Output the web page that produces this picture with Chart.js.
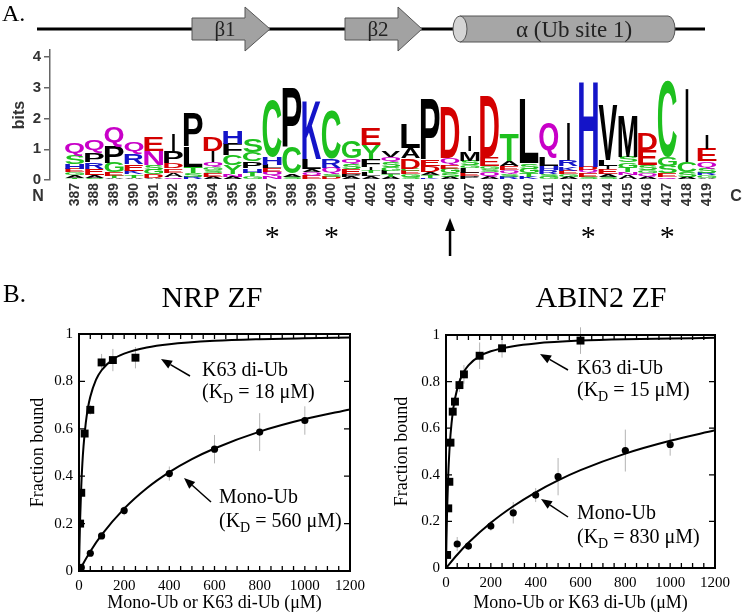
<!DOCTYPE html>
<html>
<head>
<meta charset="utf-8">
<script src="https://cdn.jsdelivr.net/npm/chart.js@4.4.1/dist/chart.umd.min.js"></script>
<style>
html, body { margin: 0; padding: 0; background: #fff; }
body { width: 745px; height: 615px; position: relative; overflow: hidden; }
canvas { position: absolute; }
#logo { left: 0; top: 0; width: 745px; height: 265px; }
#nrp { left: 0; top: 280px; width: 372px; height: 335px; }
#abin { left: 372px; top: 280px; width: 373px; height: 335px; }
</style>
</head>
<body>
<canvas id="logo" width="745" height="265"></canvas>
<canvas id="nrp" width="372" height="335"></canvas>
<canvas id="abin" width="373" height="335"></canvas>
<script>
const SERIF = '"Liberation Serif", "Times New Roman", serif';
const SANS = '"Liberation Sans", Arial, sans-serif';

/* --------------------------------------------------
   PANEL A DATA: sequence logo (letters bottom -> top)
-------------------------------------------------- */
const logoPositions = [387, 388, 389, 390, 391, 392, 393, 394, 395, 396, 397, 398, 399, 400, 401, 402, 403,
                       404, 405, 406, 407, 408, 409, 410, 411, 412, 413, 414, 415, 416, 417, 418, 419];
const logoLetters = [
    "TAGEHSQ", "SAERPQ", "ATEGPQ", "ATKERQ", "ADGSNE", "QAEDPI", "RSTLP", "AESGQID", "ANYCFH", "GTHPCS",
    "NQELHC", "SACP", "EQALK", "DSQRC", "APESQG", "ALTIFYE", "ATLGSQV", "SGECDAL", "KTADEP", "ASGEQD",
    "PELGSMI", "AQSGED", "RSQEAT", "KTGSL", "GSRHLQ", "AGEKRI", "SEQDH", "SAEILV", "ANTGSM", "AQGSED",
    "QESGC", "ASCI", "AGRSQEI"
];
const logoBits = [
    [.08, .08, .1, .1, .15, .29, .42], [.07, .08, .2, .22, .3, .45], [.06, .08, .1, .32, .55, .62],
    [.08, .1, .12, .22, .33, .35], [.08, .1, .15, .15, .45, .45], [.1, .14, .14, .16, .38, .6],
    [.1, .13, .2, .65, 1.09], [.1, .12, .1, .1, .15, .36, .45], [.1, .1, .27, .33, .37, .4],
    [.12, .12, .14, .22, .3, .42], [.12, .15, .12, .1, .25, 1.86], [.1, .1, .85, 1.94],
    [.13, .12, .1, .33, 1.92], [.1, .1, .2, .3, 1.58], [.1, .1, .15, .17, .18, .55],
    [.12, .1, .1, .1, .27, .45, .54], [.1, .1, .1, .13, .15, .17, .22], [.1, .1, .1, .07, .33, .35, .8],
    [.08, .08, .1, .2, .2, 2.0], [.1, .12, .15, .12, .22, 1.68], [.12, .1, .16, .1, .15, .3, .5],
    [.1, .15, .1, .1, .3, 2.0], [.1, .1, .12, .14, .16, .9], [.1, .12, .15, .18, 2.08],
    [.1, .1, .12, .12, .27, 1.14], [.1, .1, .1, .14, .2, 1.21], [.1, .13, .1, .1, 2.77],
    [.1, .1, .15, .1, .2, 1.79], [.15, .1, .15, .17, .19, 1.36], [.12, .1, .1, .17, .49, .54],
    [.1, .12, .24, .3, 2.5], [.1, .17, .33, 2.39], [.08, .08, .08, .15, .22, .4, .46]
];
const bitTicks = [0, 1, 2, 3, 4];
const starredResidues = [397, 400, 413, 417];
const arrowResidue = 406;

/* --------------------------------------------------
   PANEL B DATA: binding curves
-------------------------------------------------- */
const concTicks = [0, 200, 400, 600, 800, 1000, 1200];
const fractionTicks = [0, 0.2, 0.4, 0.6, 0.8, 1];

// NRP ZF
const nrpDiX = [0, 5, 10, 25, 50, 100, 150, 250];
const nrpDiY = [0, 0.20, 0.33, 0.58, 0.68, 0.88, 0.89, 0.90];
const nrpDiErr = [0, 0.01, 0.01, 0.02, 0.02, 0.036, 0.047, 0.045];
const nrpMonoX = [10, 50, 100, 200, 400, 600, 800, 1000];
const nrpMonoY = [0.015, 0.075, 0.148, 0.255, 0.411, 0.514, 0.586, 0.635];
const nrpMonoErr = [0, 0.01, 0.01, 0.02, 0.03, 0.06, 0.08, 0.06];
const nrpDiFitX = [0, 2, 5, 10, 15, 20, 30, 40, 50, 75, 100, 150, 200, 300, 400, 600, 800, 1000, 1200];
const nrpDiFitY = [0, 0.10, 0.217, 0.357, 0.455, 0.526, 0.625, 0.69, 0.735, 0.806, 0.847, 0.893, 0.917, 0.943, 0.957, 0.971, 0.978, 0.982, 0.985];
const nrpMonoFitX = [0, 50, 100, 200, 300, 400, 500, 600, 800, 1000, 1200];
const nrpMonoFitY = [0, 0.082, 0.152, 0.263, 0.349, 0.417, 0.472, 0.517, 0.588, 0.641, 0.682];

// ABIN2 ZF
const abinDiX = [5, 10, 15, 20, 30, 40, 60, 80, 150, 250, 600];
const abinDiY = [0.056, 0.256, 0.37, 0.538, 0.671, 0.714, 0.785, 0.831, 0.911, 0.943, 0.976];
const abinDiErr = [0.01, 0.01, 0.01, 0.01, 0.02, 0.02, 0.03, 0.04, 0.057, 0.04, 0.057];
const abinMonoX = [50, 100, 200, 300, 400, 500, 800, 1000];
const abinMonoY = [0.103, 0.094, 0.18, 0.237, 0.313, 0.392, 0.504, 0.53];
const abinMonoErr = [0.03, 0.01, 0.02, 0.046, 0.03, 0.08, 0.09, 0.048];
const abinDiFitX = [0, 2, 5, 10, 15, 20, 30, 40, 60, 80, 100, 150, 200, 300, 400, 600, 800, 1000, 1200];
const abinDiFitY = [0, 0.118, 0.25, 0.4, 0.5, 0.571, 0.667, 0.727, 0.8, 0.842, 0.87, 0.909, 0.93, 0.952, 0.964, 0.976, 0.982, 0.985, 0.988];
const abinMonoFitX = [0, 50, 100, 200, 300, 400, 500, 600, 800, 1000, 1200];
const abinMonoFitY = [0, 0.057, 0.108, 0.194, 0.265, 0.325, 0.376, 0.42, 0.491, 0.546, 0.591];

/* --------------------------------------------------
   HELPERS
-------------------------------------------------- */
function residueColor(ch) {
    if ("GSTYC".includes(ch)) return "#1ec01e";
    if ("NQ".includes(ch)) return "#c800c8";
    if ("KRH".includes(ch)) return "#1414c8";
    if ("DE".includes(ch)) return "#d40000";
    return "#000";
}

// stretch one glyph into a box
function drawLetter(ctx, ch, left, top, w, h) {
    if (h < 0.6) return;
    ctx.save();
    ctx.font = `bold 100px ${SANS}`;
    ctx.textAlign = "left";
    ctx.textBaseline = "alphabetic";
    const m = ctx.measureText(ch);
    const gl = m.actualBoundingBoxLeft, ga = m.actualBoundingBoxAscent;
    const gw = gl + m.actualBoundingBoxRight, gh = ga + m.actualBoundingBoxDescent;
    const drawW = ch === "I" ? w * 0.15 : w;
    ctx.translate(left + (w - drawW) / 2, top);
    ctx.scale(drawW / gw, h / gh);
    ctx.fillStyle = residueColor(ch);
    ctx.fillText(ch, gl, ga);
    ctx.restore();
}

function drawStrand(ctx, x0, x1, x2, label, lx) {
    ctx.beginPath();
    ctx.moveTo(x0, 18); ctx.lineTo(x1, 18); ctx.lineTo(x1, 7); ctx.lineTo(x2, 29);
    ctx.lineTo(x1, 51); ctx.lineTo(x1, 40); ctx.lineTo(x0, 40); ctx.closePath();
    ctx.fillStyle = "#a2a2a2";
    ctx.fill();
    ctx.strokeStyle = "#555";
    ctx.lineWidth = 1;
    ctx.stroke();
    ctx.fillStyle = "#222";
    ctx.font = `21px ${SERIF}`;
    ctx.textAlign = "center";
    ctx.textBaseline = "alphabetic";
    ctx.fillText(label, lx, 36);
}

/* --------------------------------------------------
   PANEL A: LOGO + SECONDARY STRUCTURE
-------------------------------------------------- */
const logoPlugin = {
    id: "logoMarks",
    beforeDraw(chart) {
        const ctx = chart.ctx;
        ctx.save();
        ctx.fillStyle = "#000";
        ctx.font = `24px ${SERIF}`;
        ctx.textAlign = "left";
        ctx.fillText("A.", 2, 21);

        ctx.strokeStyle = "#000";
        ctx.lineWidth = 3;
        ctx.beginPath();
        ctx.moveTo(37, 29); ctx.lineTo(705, 29);
        ctx.stroke();

        drawStrand(ctx, 192, 245, 270, "β1", 225);
        drawStrand(ctx, 345, 398, 422, "β2", 378);

        // helix cylinder
        ctx.beginPath();
        ctx.moveTo(460, 16); ctx.lineTo(668, 16);
        ctx.ellipse(668, 29, 7, 13, 0, -Math.PI / 2, Math.PI / 2);
        ctx.lineTo(460, 42); ctx.closePath();
        ctx.fillStyle = "#a6a6a6";
        ctx.fill();
        ctx.strokeStyle = "#555";
        ctx.lineWidth = 1;
        ctx.stroke();
        ctx.beginPath();
        ctx.ellipse(460, 29, 7, 13, 0, 0, Math.PI * 2);
        ctx.fillStyle = "#d4d4d4";
        ctx.fill();
        ctx.stroke();
        ctx.fillStyle = "#222";
        ctx.font = `23px ${SERIF}`;
        ctx.textAlign = "center";
        ctx.fillText("α (Ub site 1)", 574, 37);
        ctx.restore();
    },
    afterDatasetsDraw(chart) {
        const ctx = chart.ctx;
        chart.data.datasets.forEach((ds, di) => {
            const meta = chart.getDatasetMeta(di);
            meta.data.forEach((bar, j) => {
                const ch = ds.letters[j];
                if (!ch) return;
                const p = bar.getProps(["x", "y", "base", "width"], true);
                const top = Math.min(p.y, p.base);
                drawLetter(ctx, ch, p.x - p.width / 2, top, p.width, Math.abs(p.base - p.y));
            });
        });
    },
    afterDraw(chart) {
        const ctx = chart.ctx;
        const xs = chart.scales.x;
        ctx.save();
        ctx.fillStyle = "#333";
        ctx.font = `bold 16px ${SANS}`;
        ctx.textAlign = "center";
        ctx.textBaseline = "middle";
        ctx.fillText("N", 38, 197);
        ctx.fillText("C", 736, 197);

        ctx.fillStyle = "#000";
        ctx.font = `30px ${SERIF}`;
        ctx.textBaseline = "alphabetic";
        starredResidues.forEach(r => ctx.fillText("*", xs.getPixelForValue(r), 246));

        const ax = xs.getPixelForValue(arrowResidue);
        ctx.strokeStyle = "#000";
        ctx.lineWidth = 2.5;
        ctx.beginPath();
        ctx.moveTo(ax, 256); ctx.lineTo(ax, 228);
        ctx.stroke();
        ctx.beginPath();
        ctx.moveTo(ax, 218); ctx.lineTo(ax - 5, 231); ctx.lineTo(ax + 5, 231); ctx.closePath();
        ctx.fill();
        ctx.restore();
    }
};

const logoDatasets = [];
const maxDepth = Math.max(...logoLetters.map(s => s.length));
for (let k = 0; k < maxDepth; k++) {
    logoDatasets.push({
        data: logoPositions.map((p, i) => ({ x: p, y: logoBits[i][k] || 0 })),
        letters: logoPositions.map((p, i) => logoLetters[i][k] || ""),
        backgroundColor: "rgba(0,0,0,0)",
        borderWidth: 0,
        barPercentage: 1,
        categoryPercentage: 0.96
    });
}

new Chart(document.getElementById("logo"), {
    type: "bar",
    data: { datasets: logoDatasets },
    options: {
        responsive: false,
        animation: false,
        devicePixelRatio: 1,
        events: [],
        layout: { padding: { top: 50, right: 18, left: 0, bottom: 0 } },
        plugins: { legend: { display: false }, tooltip: { enabled: false } },
        scales: {
            x: {
                type: "linear",
                stacked: true,
                min: 386.27,
                max: 419.5,
                afterBuildTicks: s => { s.ticks = logoPositions.map(v => ({ value: v })); },
                afterFit: s => { s.height = 85; },
                grid: { display: false, drawTicks: false },
                border: { display: false },
                ticks: {
                    autoSkip: false, minRotation: 90, maxRotation: 90, padding: 3, color: "#333",
                    font: { family: SANS, weight: "bold", size: 14 },
                    callback: v => String(v)
                }
            },
            y: {
                stacked: true,
                min: 0,
                max: 4.23,
                afterBuildTicks: s => { s.ticks = bitTicks.map(v => ({ value: v })); },
                afterFit: s => { s.width = 50; },
                grid: { drawOnChartArea: false, drawTicks: true, tickLength: 6, color: "#666", lineWidth: 1.5 },
                border: { color: "#666", width: 1.5 },
                ticks: { padding: 3, color: "#333", font: { family: SANS, weight: "bold", size: 15 } },
                title: {
                    display: true, text: "bits", color: "#333",
                    font: { family: SANS, weight: "bold", size: 16 },
                    padding: { top: 10, bottom: 0 }
                }
            }
        }
    },
    plugins: [logoPlugin]
});

/* --------------------------------------------------
   PANEL B: BINDING CHARTS
-------------------------------------------------- */
function pts(xs, ys) {
    return xs.map((x, i) => ({ x: x, y: ys[i] }));
}

function drawKd(ctx, x, y, value) {
    ctx.font = `20px ${SERIF}`;
    ctx.fillText("(K", x, y);
    let w = ctx.measureText("(K").width;
    ctx.font = `14px ${SERIF}`;
    ctx.fillText("D", x + w, y + 5);
    w += ctx.measureText("D").width;
    ctx.font = `20px ${SERIF}`;
    ctx.fillText(` = ${value} μM)`, x + w, y);
}

function drawArrow(ctx, tail, head) {
    const ang = Math.atan2(head[1] - tail[1], head[0] - tail[0]);
    const len = 11, half = 4.5;
    const bx = head[0] - len * Math.cos(ang), by = head[1] - len * Math.sin(ang);
    ctx.beginPath();
    ctx.moveTo(tail[0], tail[1]); ctx.lineTo(bx, by);
    ctx.stroke();
    ctx.beginPath();
    ctx.moveTo(head[0], head[1]);
    ctx.lineTo(bx + half * Math.sin(ang), by - half * Math.cos(ang));
    ctx.lineTo(bx - half * Math.sin(ang), by + half * Math.cos(ang));
    ctx.closePath();
    ctx.fill();
}

function makePanelPlugin(cfg) {
    return {
        id: "panel",
        beforeDatasetsDraw(chart) {
            const ctx = chart.ctx;
            const ys = chart.scales.y;
            ctx.save();
            ctx.strokeStyle = "#b4b4b4";
            ctx.lineWidth = 1;
            chart.data.datasets.forEach((ds, di) => {
                if (!ds.errors) return;
                chart.getDatasetMeta(di).data.forEach((pt, j) => {
                    const e = ds.errors[j];
                    if (!e) return;
                    const v = ds.data[j].y;
                    ctx.beginPath();
                    ctx.moveTo(pt.x, ys.getPixelForValue(v - e));
                    ctx.lineTo(pt.x, ys.getPixelForValue(v + e));
                    ctx.stroke();
                });
            });
            ctx.restore();
        },
        afterDraw(chart) {
            const ctx = chart.ctx;
            const a = chart.chartArea;
            const xs = chart.scales.x, ys = chart.scales.y;
            ctx.save();
            ctx.strokeStyle = "#000";
            ctx.fillStyle = "#000";
            ctx.lineWidth = 2;
            ctx.strokeRect(a.left, a.top, a.right - a.left, a.bottom - a.top);
            ctx.lineWidth = 1.3;
            ctx.beginPath();
            for (let v = 50; v < 1200; v += 50) {
                const px = xs.getPixelForValue(v);
                ctx.moveTo(px, a.bottom); ctx.lineTo(px, a.bottom - 5);
                ctx.moveTo(px, a.top); ctx.lineTo(px, a.top + 5);
            }
            fractionTicks.forEach(v => {
                const py = ys.getPixelForValue(v);
                ctx.moveTo(a.left, py); ctx.lineTo(a.left + 6, py);
                ctx.moveTo(a.right, py); ctx.lineTo(a.right - 6, py);
            });
            ctx.stroke();

            ctx.textAlign = "center";
            ctx.textBaseline = "alphabetic";
            ctx.font = `30px ${SERIF}`;
            ctx.fillText(cfg.title, cfg.titlePos[0], cfg.titlePos[1]);
            if (cfg.panelLabel) {
                ctx.textAlign = "left";
                ctx.font = `25px ${SERIF}`;
                ctx.fillText(cfg.panelLabel, 3, 22);
            }

            ctx.textAlign = "left";
            ctx.font = `20px ${SERIF}`;
            ctx.fillText("K63 di-Ub", cfg.diText[0], cfg.diText[1]);
            drawKd(ctx, cfg.diText[0], cfg.diText[1] + 22, cfg.diKd);
            ctx.font = `20px ${SERIF}`;
            ctx.fillText("Mono-Ub", cfg.monoText[0], cfg.monoText[1]);
            drawKd(ctx, cfg.monoText[0], cfg.monoText[1] + 24, cfg.monoKd);

            ctx.lineWidth = 1.5;
            drawArrow(ctx, cfg.diArrow[0], cfg.diArrow[1]);
            drawArrow(ctx, cfg.monoArrow[0], cfg.monoArrow[1]);
            ctx.restore();
        }
    };
}

function makeBindingChart(id, cfg) {
    const canvas = document.getElementById(id);
    const W = canvas.width, H = canvas.height;
    return new Chart(canvas, {
        type: "scatter",
        data: {
            datasets: [
                { label: "K63 di-Ub fit", data: pts(cfg.diFitX, cfg.diFitY), showLine: true, borderColor: "#000",
                  borderWidth: 2, pointRadius: 0, cubicInterpolationMode: "monotone" },
                { label: "Mono-Ub fit", data: pts(cfg.monoFitX, cfg.monoFitY), showLine: true, borderColor: "#000",
                  borderWidth: 2, pointRadius: 0, cubicInterpolationMode: "monotone" },
                { label: "K63 di-Ub", data: pts(cfg.diX, cfg.diY), errors: cfg.diErr, pointStyle: "rect",
                  pointRadius: 5.6, backgroundColor: "#000", borderWidth: 0 },
                { label: "Mono-Ub", data: pts(cfg.monoX, cfg.monoY), errors: cfg.monoErr, pointStyle: "circle",
                  pointRadius: 3.6, backgroundColor: "#000", borderWidth: 0 }
            ]
        },
        options: {
            responsive: false,
            animation: false,
            devicePixelRatio: 1,
            events: [],
            layout: { padding: { top: cfg.area.top, right: W - cfg.area.right, left: 0, bottom: 0 } },
            plugins: { legend: { display: false }, tooltip: { enabled: false } },
            scales: {
                x: {
                    type: "linear", min: 0, max: 1200,
                    afterBuildTicks: s => { s.ticks = concTicks.map(v => ({ value: v })); },
                    afterFit: s => { s.height = H - cfg.area.bottom; },
                    grid: { display: false, drawTicks: false },
                    border: { display: false },
                    ticks: { padding: 6, color: "#000", font: { family: SERIF, size: 15 }, callback: v => String(v) },
                    title: {
                        display: true, text: "Mono-Ub or K63 di-Ub (μM)", color: "#000",
                        font: { family: SERIF, size: 18 }, padding: { top: 0, bottom: 1 }
                    }
                },
                y: {
                    type: "linear", min: 0, max: 1,
                    afterBuildTicks: s => { s.ticks = fractionTicks.map(v => ({ value: v })); },
                    afterFit: s => { s.width = cfg.area.left; },
                    grid: { display: false, drawTicks: false },
                    border: { display: false },
                    ticks: {
                        padding: 6, color: "#000", font: { family: SERIF, size: 15 },
                        callback: v => (v === 0 ? "0" : v === 1 ? "1" : v.toFixed(1))
                    },
                    title: {
                        display: true, text: "Fraction bound", color: "#000",
                        font: { family: SERIF, size: 18 }, padding: { top: cfg.yTitlePad, bottom: 0 }
                    }
                }
            }
        },
        plugins: [makePanelPlugin(cfg)]
    });
}

makeBindingChart("nrp", {
    area: { left: 79, right: 350, top: 54, bottom: 291 },
    yTitlePad: 27,
    title: "NRP ZF", titlePos: [212, 27], panelLabel: "B.",
    diX: nrpDiX, diY: nrpDiY, diErr: nrpDiErr,
    monoX: nrpMonoX, monoY: nrpMonoY, monoErr: nrpMonoErr,
    diFitX: nrpDiFitX, diFitY: nrpDiFitY, monoFitX: nrpMonoFitX, monoFitY: nrpMonoFitY,
    diKd: 18, monoKd: 560,
    diText: [202, 96], monoText: [219, 223],
    diArrow: [[190, 96], [161, 79]], monoArrow: [[211, 222], [184, 198]]
});

makeBindingChart("abin", {
    area: { left: 74, right: 343, top: 55, bottom: 288 },
    yTitlePad: 19,
    title: "ABIN2 ZF", titlePos: [229, 27], panelLabel: null,
    diX: abinDiX, diY: abinDiY, diErr: abinDiErr,
    monoX: abinMonoX, monoY: abinMonoY, monoErr: abinMonoErr,
    diFitX: abinDiFitX, diFitY: abinDiFitY, monoFitX: abinMonoFitX, monoFitY: abinMonoFitY,
    diKd: 15, monoKd: 830,
    diText: [205, 94], monoText: [205, 239],
    diArrow: [[196, 90], [168, 74]], monoArrow: [[196, 237], [169, 219]]
});
</script>
</body>
</html>
